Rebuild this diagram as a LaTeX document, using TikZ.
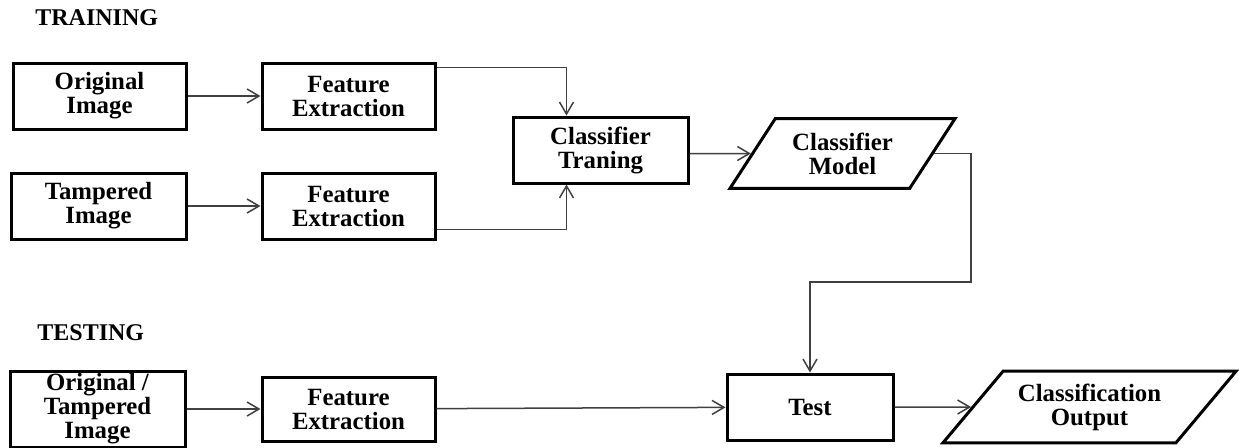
\documentclass[tikz,border=0pt]{standalone}
\usepackage{fontspec}
\setmainfont{Liberation Serif}
\usetikzlibrary{arrows.meta,shapes.geometric}

\tikzset{
  lbl/.style={inner sep=0pt, font=\fontsize{12}{12}\selectfont\bfseries},
  blk/.style={lbl, draw, line width=1.5pt, rectangle, align=center,
    font=\fontsize{12.4}{12}\selectfont\bfseries},
  iobox/.style={blk, trapezium, trapezium stretches body},
  conn/.style={line width=0.75pt, black!75},
  arr/.style={conn, -{Straight Barb[length=6pt,width=7pt]}}
}

\begin{document}
\begin{tikzpicture}[x=0.5pt,y=-0.5pt]
  \useasboundingbox (0,0) rectangle (1239,447);

  \node[lbl, anchor=west] (train) at (35,17.5) {TRAINING};
  \node[lbl, anchor=west] (testing) at (37,333) {TESTING};

  % plain blocks: name/x/y/width/height/text
  \foreach \n/\x/\y/\w/\h/\t in {
      orig/99.5/96/86.5/33/{Original\\Image},
      fe1/348.5/96/86.5/33/{Feature\\Extraction},
      tamp/98.5/206/87.5/33/{Tampered\\Image},
      fe2/348.5/206/86.5/33/{Feature\\Extraction},
      ct/600.5/150/87.5/33/{Classifier\\Traning},
      ot/97.5/409/87.5/38/{Original /\\Tampered\\Image},
      fe3/348.5/409/86.5/32/{Feature\\Extraction},
      test/810/407/83/33/{Test}}
    \node[blk, minimum width=\w pt, minimum height=\h pt] (\n) at (\x,\y) {\t};

  % parallelograms: height comes from inner ysep so the slant keeps its angle
  \node[iobox, trapezium left angle=57, trapezium right angle=123,
    minimum width=112.5pt, inner ysep=7pt] (cm) at (842.5,153.5) {Classifier\\Model};
  \node[iobox, trapezium left angle=50, trapezium right angle=130,
    minimum width=146.5pt, inner ysep=6.2pt] (co) at (1089.5,407) {Classification\\Output};

  \coordinate (turn) at (971,282);

  \draw[arr] (orig) -- (fe1);
  \draw[arr] (tamp) -- (fe2);
  \draw[arr] ([yshift=-3pt]fe1.north east) -| ([xshift=-17pt]ct.north);
  \draw[arr] ([yshift=5.5pt]fe2.south east) -| ([xshift=-17pt]ct.south);
  \draw[arr] (ct.east |- cm) -- (cm);
  \draw[arr] (cm.east) -| (turn) -| (test.north);
  \draw[arr] (ot) -- (fe3);
  \draw[arr] (fe3) -- (test);
  \draw[arr] (test) -- (co);
\end{tikzpicture}
\end{document}
